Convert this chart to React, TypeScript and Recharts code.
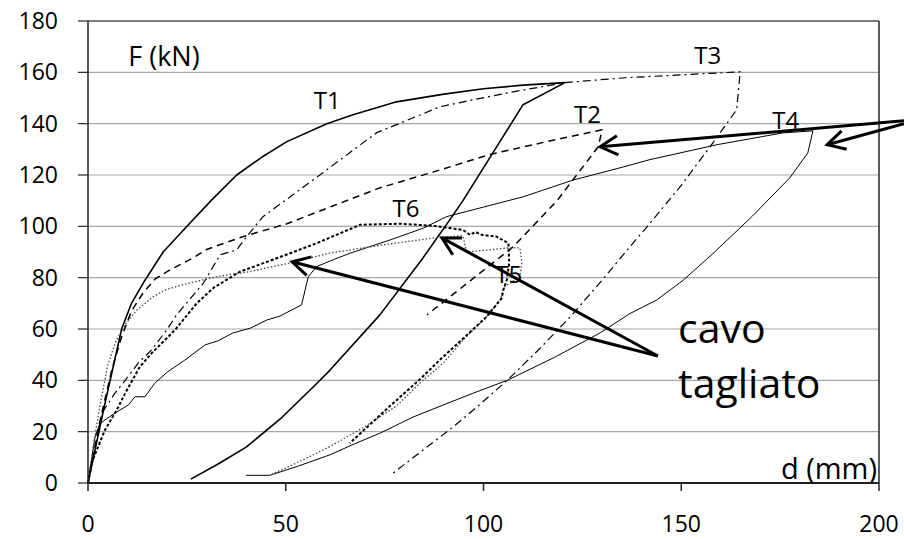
import { CartesianGrid, Line, LineChart, ReferenceDot, ReferenceLine, XAxis, YAxis } from "recharts";

// displacement d (mm) / force F (kN)
const T1_D = [0, 4, 8.5, 11, 14, 19, 25.8, 31.3, 37.6, 44, 50.3, 60.4, 67, 73.8, 78, 90, 100, 110, 120.6, 110, 102.4, 94.8, 92, 84.7, 73.8, 61.2, 57, 49, 40, 33, 26];
const T1_F = [0, 29, 60, 70, 78, 90, 101.3, 110.3, 120, 127, 133, 140, 143.5, 146.6, 148.5, 151.5, 153.6, 155, 156, 147.4, 128.7, 110, 103.7, 87.7, 65.5, 44, 37.5, 25.5, 14, 7.5, 1.5];

const T2_D = [0, 3, 6, 8.5, 11, 13.9, 17, 20.7, 26.6, 30, 39.2, 50.3, 62, 73.8, 88, 101.6, 116, 130, 129, 118.6, 107.5, 96, 85.7];
const T2_F = [0, 24, 44, 57, 67, 74, 79.5, 83, 87.7, 91, 96, 101, 108, 115, 121.5, 128, 133, 137.6, 131, 110, 92, 78, 65.5];

const T3_D = [0, 3.5, 6.8, 9.4, 12.7, 16.1, 19.9, 22.4, 29.2, 33.4, 37.6, 40.1, 44.2, 52, 59.4, 66, 73, 81, 89, 98, 107.5, 120.6, 135, 149.7, 164.9, 164, 158, 150, 142, 137, 130, 121.9, 114, 106, 99, 92.3, 84, 76.4];
const T3_F = [0, 27.2, 35, 40, 46.7, 51.9, 59.6, 65.5, 77.9, 88.9, 90.8, 96, 103.7, 112.5, 120.9, 128.5, 136.5, 141.5, 146.6, 149.5, 152.4, 156, 157.8, 159, 160.2, 145.4, 132.5, 116, 101, 92, 79, 64.7, 52, 40, 30.5, 21.8, 12, 3];

const T4_D = [0, 1.8, 3, 4.3, 6.8, 10.2, 11.9, 14.4, 16.9, 20.2, 24.5, 29.6, 33, 36.7, 41, 45.2, 48.5, 54, 55.7, 57.8, 62, 66.2, 76.4, 84.8, 90.7, 100, 110, 122.6, 135, 142.1, 149.7, 159, 167, 175.7, 183.3, 182, 177.5, 168, 159, 150.5, 143.8, 137, 129.5, 118, 106, 97.4, 90, 82.2, 73.8, 67, 61.2, 53, 46, 40];
const T4_F = [0, 18, 23, 24.6, 27.2, 30.4, 33.6, 33.6, 38.9, 43.4, 47.9, 53.8, 55.5, 58.5, 60.3, 63.5, 65, 69.4, 80.4, 84.3, 87, 89.5, 94.7, 99.3, 103.8, 107.5, 111.5, 118, 123, 126, 128.6, 131.8, 134, 136.4, 137.2, 128.6, 119, 104, 90.8, 79, 71.3, 66, 58.5, 49, 40, 35, 30.5, 25.7, 19.4, 15, 11, 6.5, 3, 3];

const T5_D = [0, 1.5, 3, 5, 7, 9.5, 12.4, 16.4, 20, 25.8, 33, 41, 51.5, 61.2, 74.6, 87.7, 94.8, 95.7, 100, 106.2, 109.2, 109.7, 109.2, 105.4, 104.2, 100.8, 95, 90, 84, 78, 70, 61.2, 53, 46];
const T5_F = [0, 16, 30, 46, 55, 62, 67.4, 72.5, 75.5, 78, 80.5, 82.4, 85.9, 89.6, 92.8, 95.5, 96.3, 90, 90.6, 91.6, 91.6, 85.8, 80.4, 76.5, 71.3, 64.8, 56, 47, 39, 30, 22, 14.2, 8, 3];

const T6_D = [0, 0.9, 4.3, 7.3, 9.4, 13.1, 16.1, 22, 27.5, 31.7, 38.4, 48.5, 57.8, 68.8, 78.9, 87.3, 94.8, 96.6, 98, 99.5, 103.3, 106.3, 106.5, 105.9, 105, 104.6, 100.8, 95, 89, 84, 76, 66.2];
const T6_F = [0, 7.8, 20.7, 28.5, 35, 45.3, 50.6, 59.6, 70, 76, 82.3, 88, 93.4, 100.6, 101, 100.2, 98.6, 96.7, 97.8, 96.7, 96, 93.4, 85.8, 79.1, 75.2, 72, 64.8, 56.5, 48, 40.5, 29.5, 15.5];

const X_TICKS = [0, 50, 100, 150, 200];
const Y_TICKS = [0, 20, 40, 60, 80, 100, 120, 140, 160, 180];

const FONT = "Open Sans, sans-serif";

const zip = (d: number[], f: number[]) => d.map((x, i) => ({ d: x, f: f[i] }));

const series = [
  { name: "T1", data: zip(T1_D, T1_F), width: 1.6, dash: undefined, color: "#000" },
  { name: "T2", data: zip(T2_D, T2_F), width: 1.5, dash: "7 5", color: "#000" },
  { name: "T3", data: zip(T3_D, T3_F), width: 1.2, dash: "8 4 2 4", color: "#000" },
  { name: "T4", data: zip(T4_D, T4_F), width: 1, dash: undefined, color: "#000" },
  { name: "T5", data: zip(T5_D, T5_F), width: 1.3, dash: "1.5 2", color: "#444" },
  { name: "T6", data: zip(T6_D, T6_F), width: 2, dash: "3 2", color: "#000" },
];

// annotation text, anchored at data coords (baseline)
const labels = [
  { text: "F (kN)", d: 19.2, f: 162.3, size: 27, anchor: "middle" },
  { text: "T1", d: 60.5, f: 145.7, size: 24, anchor: "middle" },
  { text: "T2", d: 126.3, f: 140.2, size: 24, anchor: "middle" },
  { text: "T3", d: 156.7, f: 163.2, size: 24, anchor: "middle" },
  { text: "T4", d: 176.4, f: 138, size: 24, anchor: "middle" },
  { text: "T5", d: 106.4, f: 78.1, size: 24, anchor: "middle" },
  { text: "T6", d: 80.4, f: 103.6, size: 24, anchor: "middle" },
  { text: "d (mm)", d: 199.5, f: 1.4, size: 29, anchor: "end" },
  { text: "cavo", d: 149.2, f: 54.5, size: 41, anchor: "start" },
  { text: "tagliato", d: 149.2, f: 33, size: 41, anchor: "start" },
];

const arrows = [
  { from: { x: 206.3, y: 141.1 }, to: { x: 129.5, y: 131 } },
  { from: { x: 206.3, y: 140 }, to: { x: 186.9, y: 131.8 } },
  { from: { x: 144.1, y: 49.5 }, to: { x: 51.6, y: 86.2 } },
  { from: { x: 144.1, y: 49.5 }, to: { x: 89.5, y: 95.5 } },
];

function ArrowShape(props: any) {
  const { x1, y1, x2, y2 } = props;
  const ang = Math.atan2(y1 - y2, x1 - x2);
  const len = 20;
  const spread = 0.5;
  const a = [x2 + len * Math.cos(ang + spread), y2 + len * Math.sin(ang + spread)];
  const b = [x2 + len * Math.cos(ang - spread), y2 + len * Math.sin(ang - spread)];
  return (
    <g>
      <line x1={x1} y1={y1} x2={x2} y2={y2} stroke="#000" strokeWidth={3} />
      <polyline
        points={`${a[0]},${a[1]} ${x2},${y2} ${b[0]},${b[1]}`}
        fill="none"
        stroke="#000"
        strokeWidth={3}
      />
    </g>
  );
}

export default function App() {
  return (
    <div style={{ position: "absolute", left: 0, top: 0, background: "#fff" }}>
      <LineChart width={904} height={539} margin={{ top: 21, right: 25, bottom: 0, left: 0 }}>
        <CartesianGrid vertical={false} stroke="#a6a6a6" strokeWidth={1.2} />
        <XAxis
          type="number"
          dataKey="d"
          domain={[0, 200]}
          ticks={X_TICKS}
          interval={0}
          height={56}
          tickSize={8}
          tickMargin={25}
          axisLine={{ stroke: "#222", strokeWidth: 2 }}
          tickLine={{ stroke: "#222", strokeWidth: 1.5 }}
          tick={{ fill: "#000", fontSize: 23, fontFamily: FONT }}
        />
        <YAxis
          type="number"
          domain={[0, 180]}
          ticks={Y_TICKS}
          interval={0}
          width={88}
          tickSize={10}
          tickMargin={20}
          axisLine={{ stroke: "#222", strokeWidth: 1.5 }}
          tickLine={{ stroke: "#222", strokeWidth: 1.2 }}
          tick={{ fill: "#000", fontSize: 23, fontFamily: FONT }}
        />
        <ReferenceLine y={180} stroke="#222" strokeWidth={1.2} />
        <ReferenceLine x={200} stroke="#222" strokeWidth={1.5} />
        {series.map((s) => (
          <Line
            key={s.name}
            data={s.data}
            dataKey="f"
            name={s.name}
            type="linear"
            stroke={s.color}
            strokeWidth={s.width}
            strokeDasharray={s.dash}
            strokeLinejoin="round"
            dot={false}
            activeDot={false}
            isAnimationActive={false}
          />
        ))}
        {arrows.map((a, i) => (
          <ReferenceLine
            key={`arrow-${i}`}
            segment={[a.from, a.to]}
            ifOverflow="visible"
            shape={(p: any) => <ArrowShape {...p} />}
          />
        ))}
        {labels.map((l) => (
          <ReferenceDot
            key={l.text}
            x={l.d}
            y={l.f}
            r={0}
            ifOverflow="visible"
            shape={(p: any) => (
              <text
                x={p.cx}
                y={p.cy}
                textAnchor={l.anchor}
                fontSize={l.size}
                fontFamily={FONT}
                fill="#000"
              >
                {l.text}
              </text>
            )}
          />
        ))}
      </LineChart>
    </div>
  );
}
